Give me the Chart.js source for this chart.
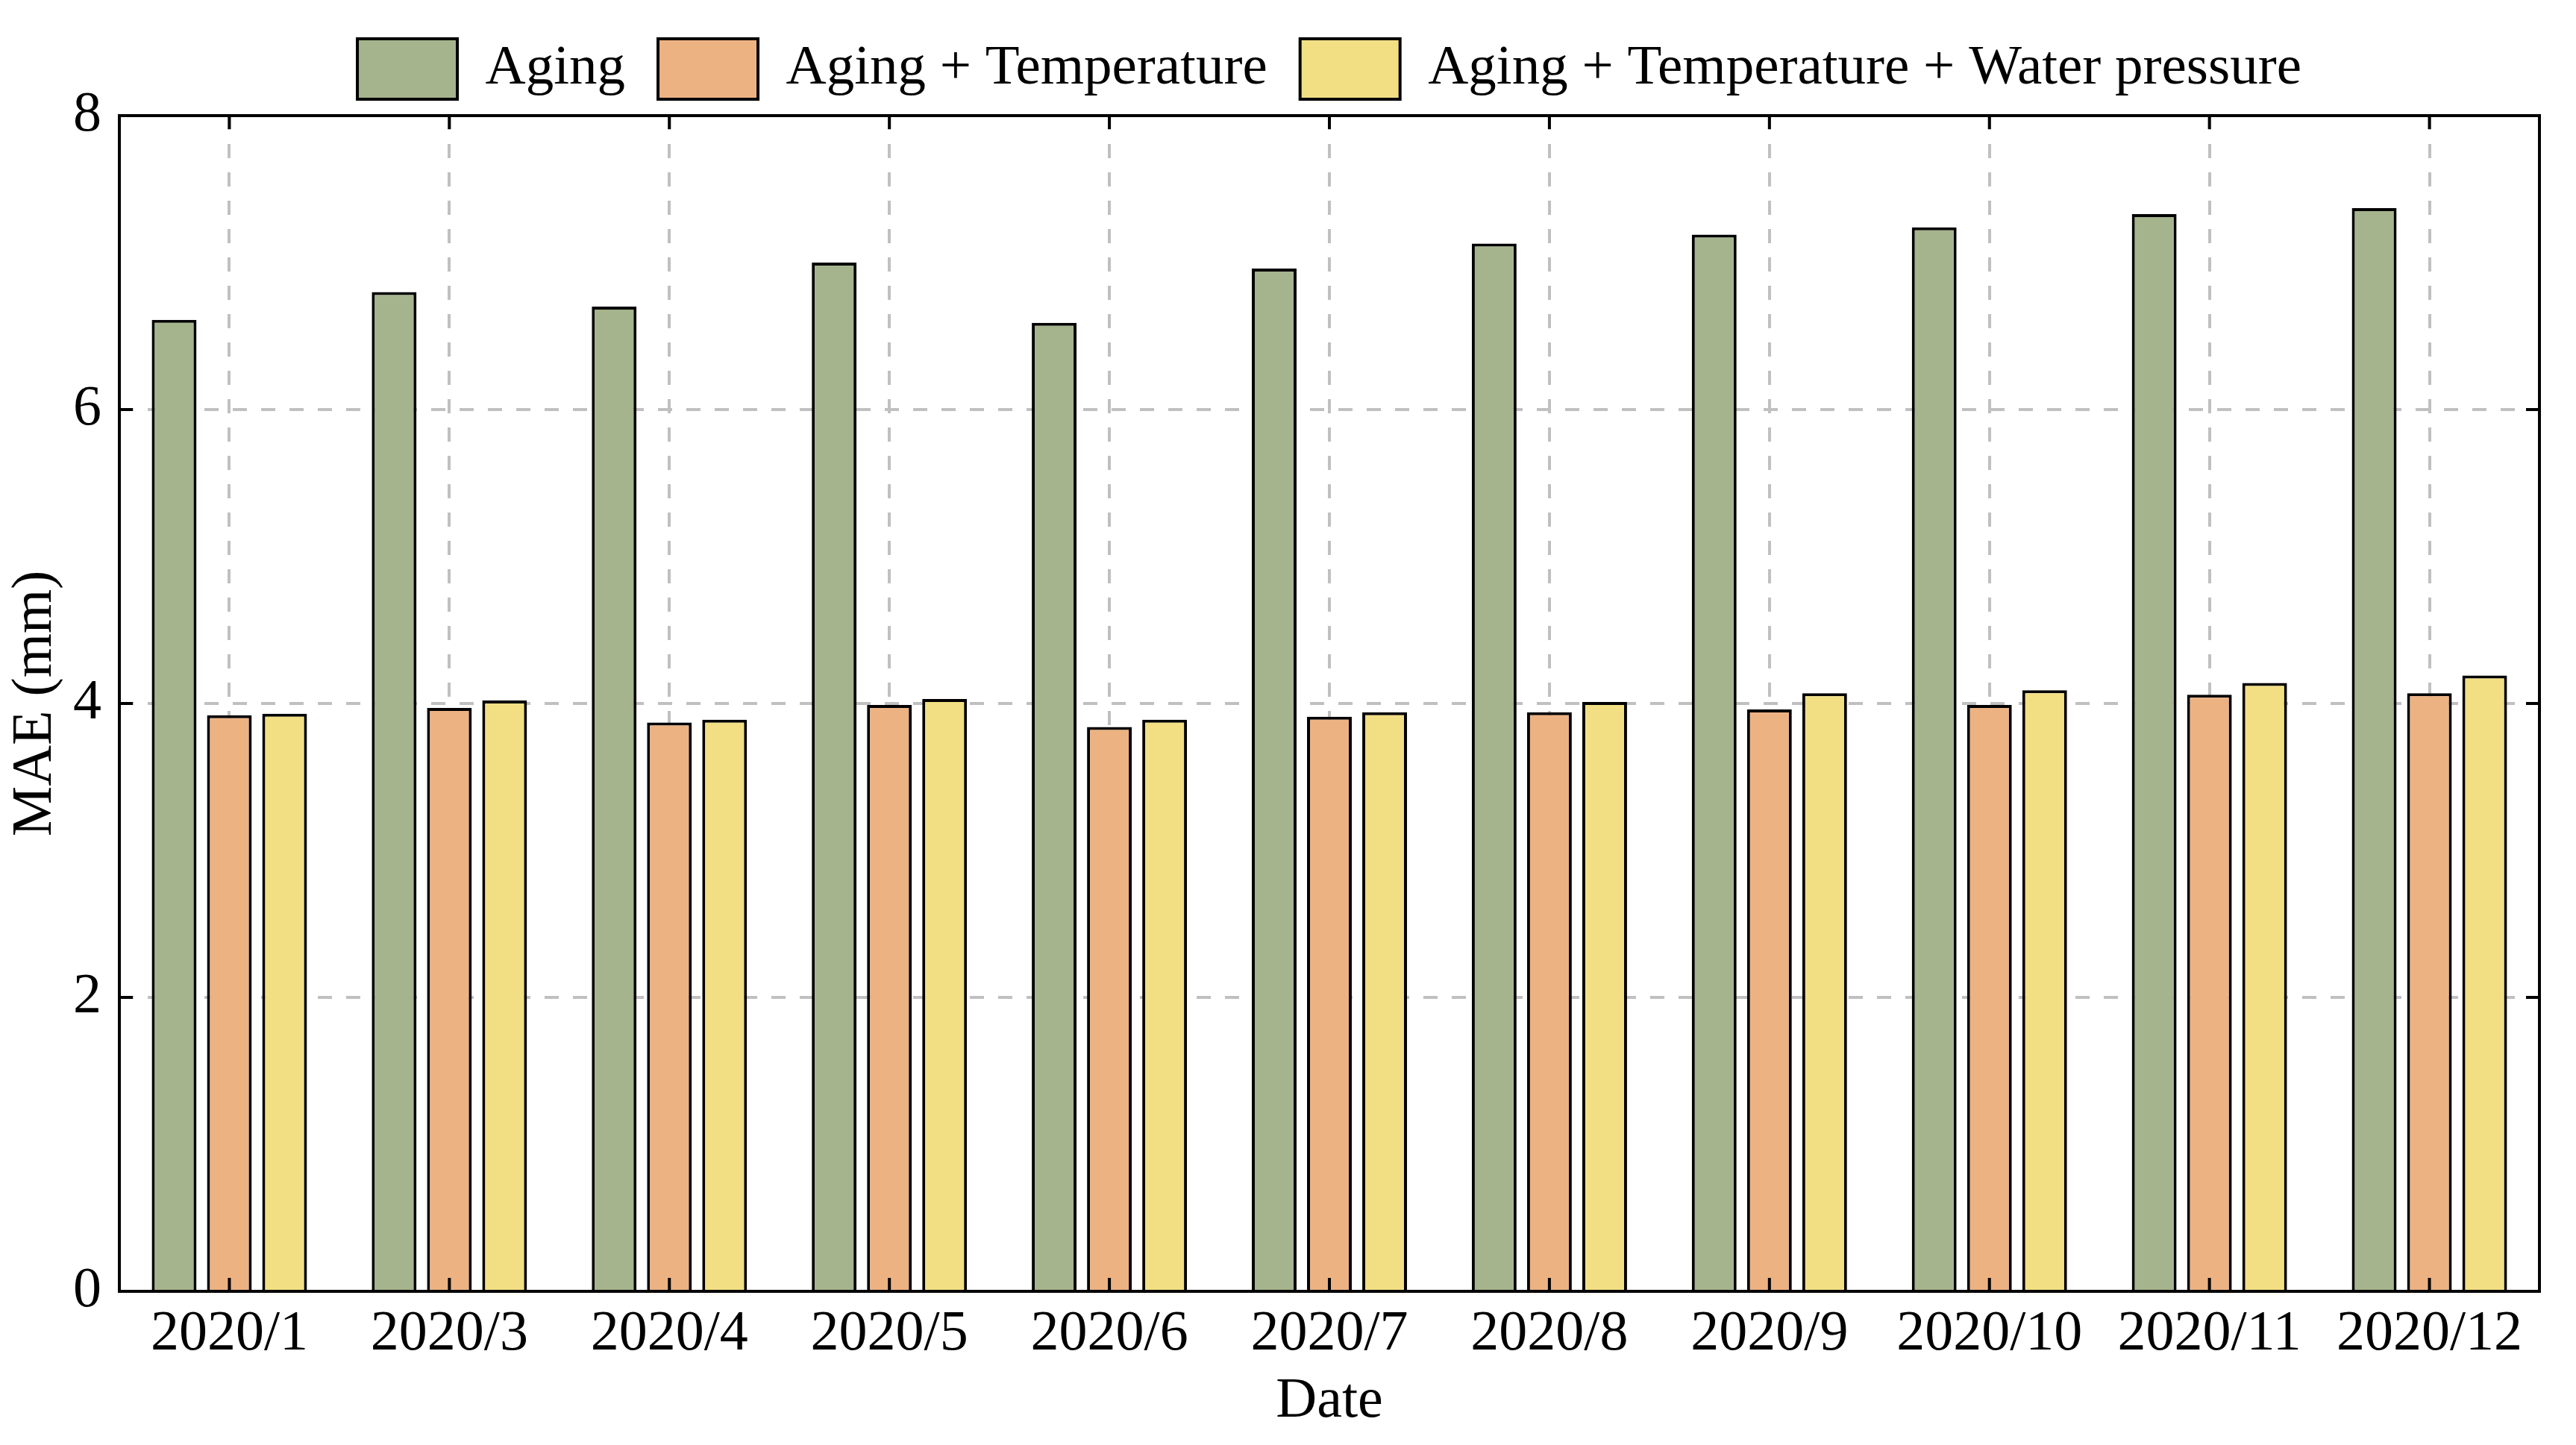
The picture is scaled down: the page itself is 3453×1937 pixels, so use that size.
<!DOCTYPE html>
<html>
<head>
<meta charset="utf-8">
<title>MAE by date</title>
<script src="https://cdn.jsdelivr.net/npm/chart.js@4/dist/chart.umd.min.js"></script>
<style>
  html, body { margin: 0; padding: 0; background: #fff; }
  canvas { display: block; }
</style>
</head>
<body>
<canvas id="chart" width="3453" height="1937" style="width:3453px;height:1937px"></canvas>
<script>
const dates = ['2020/1', '2020/3', '2020/4', '2020/5', '2020/6', '2020/7', '2020/8', '2020/9', '2020/10', '2020/11', '2020/12'];
const aging = [6.61, 6.80, 6.70, 7.00, 6.59, 6.96, 7.13, 7.19, 7.24, 7.33, 7.37];
const agingTemp = [3.92, 3.97, 3.87, 3.99, 3.84, 3.91, 3.94, 3.96, 3.99, 4.06, 4.07];
const agingTempWater = [3.93, 4.02, 3.89, 4.03, 3.89, 3.94, 4.01, 4.07, 4.09, 4.14, 4.19];
const yTicks = [0, 2, 4, 6, 8];

const FONT = 'Liberation Serif, Times New Roman, serif';
const FS = 76;

// frame around the plot + inward tick marks on all four sides
const framePlugin = {
  id: 'frame',
  afterDatasetsDraw(chart) {
    const { ctx, chartArea: a, scales } = chart;
    const tick = 18;
    ctx.save();
    ctx.strokeStyle = '#000';
    ctx.lineWidth = 4;
    ctx.beginPath();
    scales.x.ticks.forEach((t, i) => {
      const x = scales.x.getPixelForTick(i);
      ctx.moveTo(x, a.bottom); ctx.lineTo(x, a.bottom - tick);
      ctx.moveTo(x, a.top); ctx.lineTo(x, a.top + tick);
    });
    yTicks.forEach(v => {
      const y = scales.y.getPixelForValue(v);
      ctx.moveTo(a.left, y); ctx.lineTo(a.left + tick, y);
      ctx.moveTo(a.right, y); ctx.lineTo(a.right - tick, y);
    });
    ctx.stroke();
    ctx.strokeRect(a.left, a.top, a.right - a.left, a.bottom - a.top);
    ctx.restore();
  }
};

// fix legend height so the plot top lands where the original has it
const legendHeight = {
  id: 'legendHeight',
  beforeInit(chart) {
    const lg = chart.legend;
    if (!lg) return;
    const orig = lg.fit;
    lg.fit = function () { orig.call(this); this.height = 147; };
  }
};

const barStyle = { borderColor: '#000', borderWidth: 4, barPercentage: 0.81, categoryPercentage: 0.753 };

new Chart(document.getElementById('chart'), {
  type: 'bar',
  data: {
    labels: dates,
    datasets: [
      { label: 'Aging', data: aging, backgroundColor: '#a5b48c', ...barStyle },
      { label: 'Aging + Temperature', data: agingTemp, backgroundColor: '#edb282', ...barStyle },
      { label: 'Aging + Temperature + Water pressure', data: agingTempWater, backgroundColor: '#f2df84', ...barStyle }
    ]
  },
  options: {
    responsive: false,
    devicePixelRatio: 1,
    animation: false,
    layout: { padding: { left: 0, right: 49, top: 8, bottom: 0 } },
    plugins: {
      tooltip: { enabled: false },
      legend: {
        position: 'top',
        fullSize: false,
        labels: {
          font: { family: FONT, size: 75 },
          color: '#000',
          boxWidth: 134,
          boxHeight: 81,
          padding: 44
        }
      }
    },
    scales: {
      x: {
        afterFit(scale) { scale.height = 206; },
        grid: { offset: false, color: '#c0c0c0', lineWidth: 4, drawTicks: false },
        border: { display: false, dash: [19, 19] },
        ticks: { font: { family: FONT, size: FS }, color: '#000', padding: 12, maxRotation: 0, autoSkip: false },
        title: { display: true, text: 'Date', font: { family: FONT, size: FS }, color: '#000', padding: { top: 0, bottom: 12 } }
      },
      y: {
        min: 0,
        max: 8,
        afterFit(scale) { scale.width = 160; },
        afterBuildTicks(scale) { scale.ticks = yTicks.map(v => ({ value: v })); },
        grid: { color: '#c0c0c0', lineWidth: 4, drawTicks: false },
        border: { display: false, dash: [19, 19] },
        ticks: { font: { family: FONT, size: FS }, color: '#000', padding: 24 },
        title: { display: true, text: 'MAE (mm)', font: { family: FONT, size: FS }, color: '#000', padding: { top: 2, bottom: 0 } }
      }
    }
  },
  plugins: [framePlugin, legendHeight]
});
</script>
</body>
</html>
